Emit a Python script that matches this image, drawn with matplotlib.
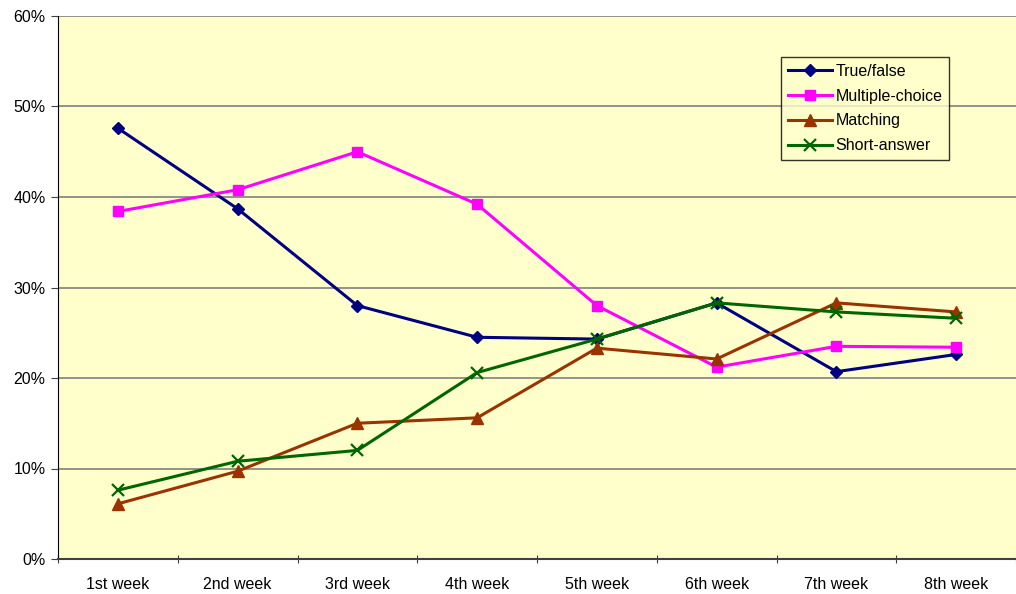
import numpy as np
import matplotlib.pyplot as plt
from matplotlib.ticker import FuncFormatter

plt.rcParams['font.family'] = ['Liberation Sans', 'DejaVu Sans']

# data (percent)
weeks = ['1st week', '2nd week', '3rd week', '4th week', '5th week', '6th week', '7th week', '8th week']
true_false = [47.6, 38.7, 28.0, 24.5, 24.3, 28.3, 20.7, 22.6]
multiple_choice = [38.4, 40.8, 45.0, 39.2, 28.0, 21.2, 23.5, 23.4]
matching = [6.1, 9.7, 15.0, 15.6, 23.3, 22.1, 28.3, 27.3]
short_answer = [7.6, 10.8, 12.0, 20.6, 24.3, 28.3, 27.3, 26.6]

fig = plt.figure(figsize=(10.16, 5.94), dpi=100)
ax = fig.add_axes([58 / 1016, 35 / 594, 958 / 1016, 543 / 594])
ax.set_facecolor('#FFFFCC')

x = np.arange(len(weeks))
lw = 2.2
ax.plot(x, true_false, color='#000080', lw=lw, marker='D', ms=6.5, label='True/false', zorder=3)
ax.plot(x, multiple_choice, color='#FF00FF', lw=lw, marker='s', ms=7.5, label='Multiple-choice', zorder=3)
ax.plot(x, matching, color='#993300', lw=lw, marker='^', ms=8, label='Matching', zorder=3)
ax.plot(x, short_answer, color='#006600', lw=lw, marker='x', ms=8, mew=1.6, label='Short-answer', zorder=3)

ax.set_xlim(-0.5, 7.5)
ax.set_ylim(0, 60)
ax.set_yticks(np.arange(0, 61, 10))
ax.yaxis.set_major_formatter(FuncFormatter(lambda v, p: '%d%%' % v))
ax.yaxis.grid(True, color='#808080', lw=1.2)
ax.set_axisbelow(True)

ax.set_xticks(np.arange(-0.5, 8, 1))
ax.set_xticklabels([])
ax.set_xticks(x, minor=True)
ax.set_xticklabels(weeks, minor=True)
ax.tick_params(axis='x', which='minor', length=0, pad=13, labelsize=11.5)
ax.tick_params(axis='x', which='major', length=6, direction='inout', color='#404040')
ax.tick_params(axis='y', length=5, direction='out', labelsize=11.5, pad=4, color='#404040')

ax.spines['top'].set_visible(False)
ax.spines['right'].set_visible(False)
ax.spines['left'].set_color('black')
ax.spines['bottom'].set_color('#404040')
ax.spines['bottom'].set_linewidth(1.5)

leg = ax.legend(loc='upper left', bbox_to_anchor=(0.755, 0.924), borderaxespad=0,
                fontsize=11.5, frameon=True, fancybox=False, facecolor='#FFFFCC',
                edgecolor='black', handlelength=2.8, handletextpad=0.2,
                labelspacing=0.62, borderpad=0.4)
leg.get_frame().set_linewidth(1.0)

fig.savefig('out.png', dpi=100)
